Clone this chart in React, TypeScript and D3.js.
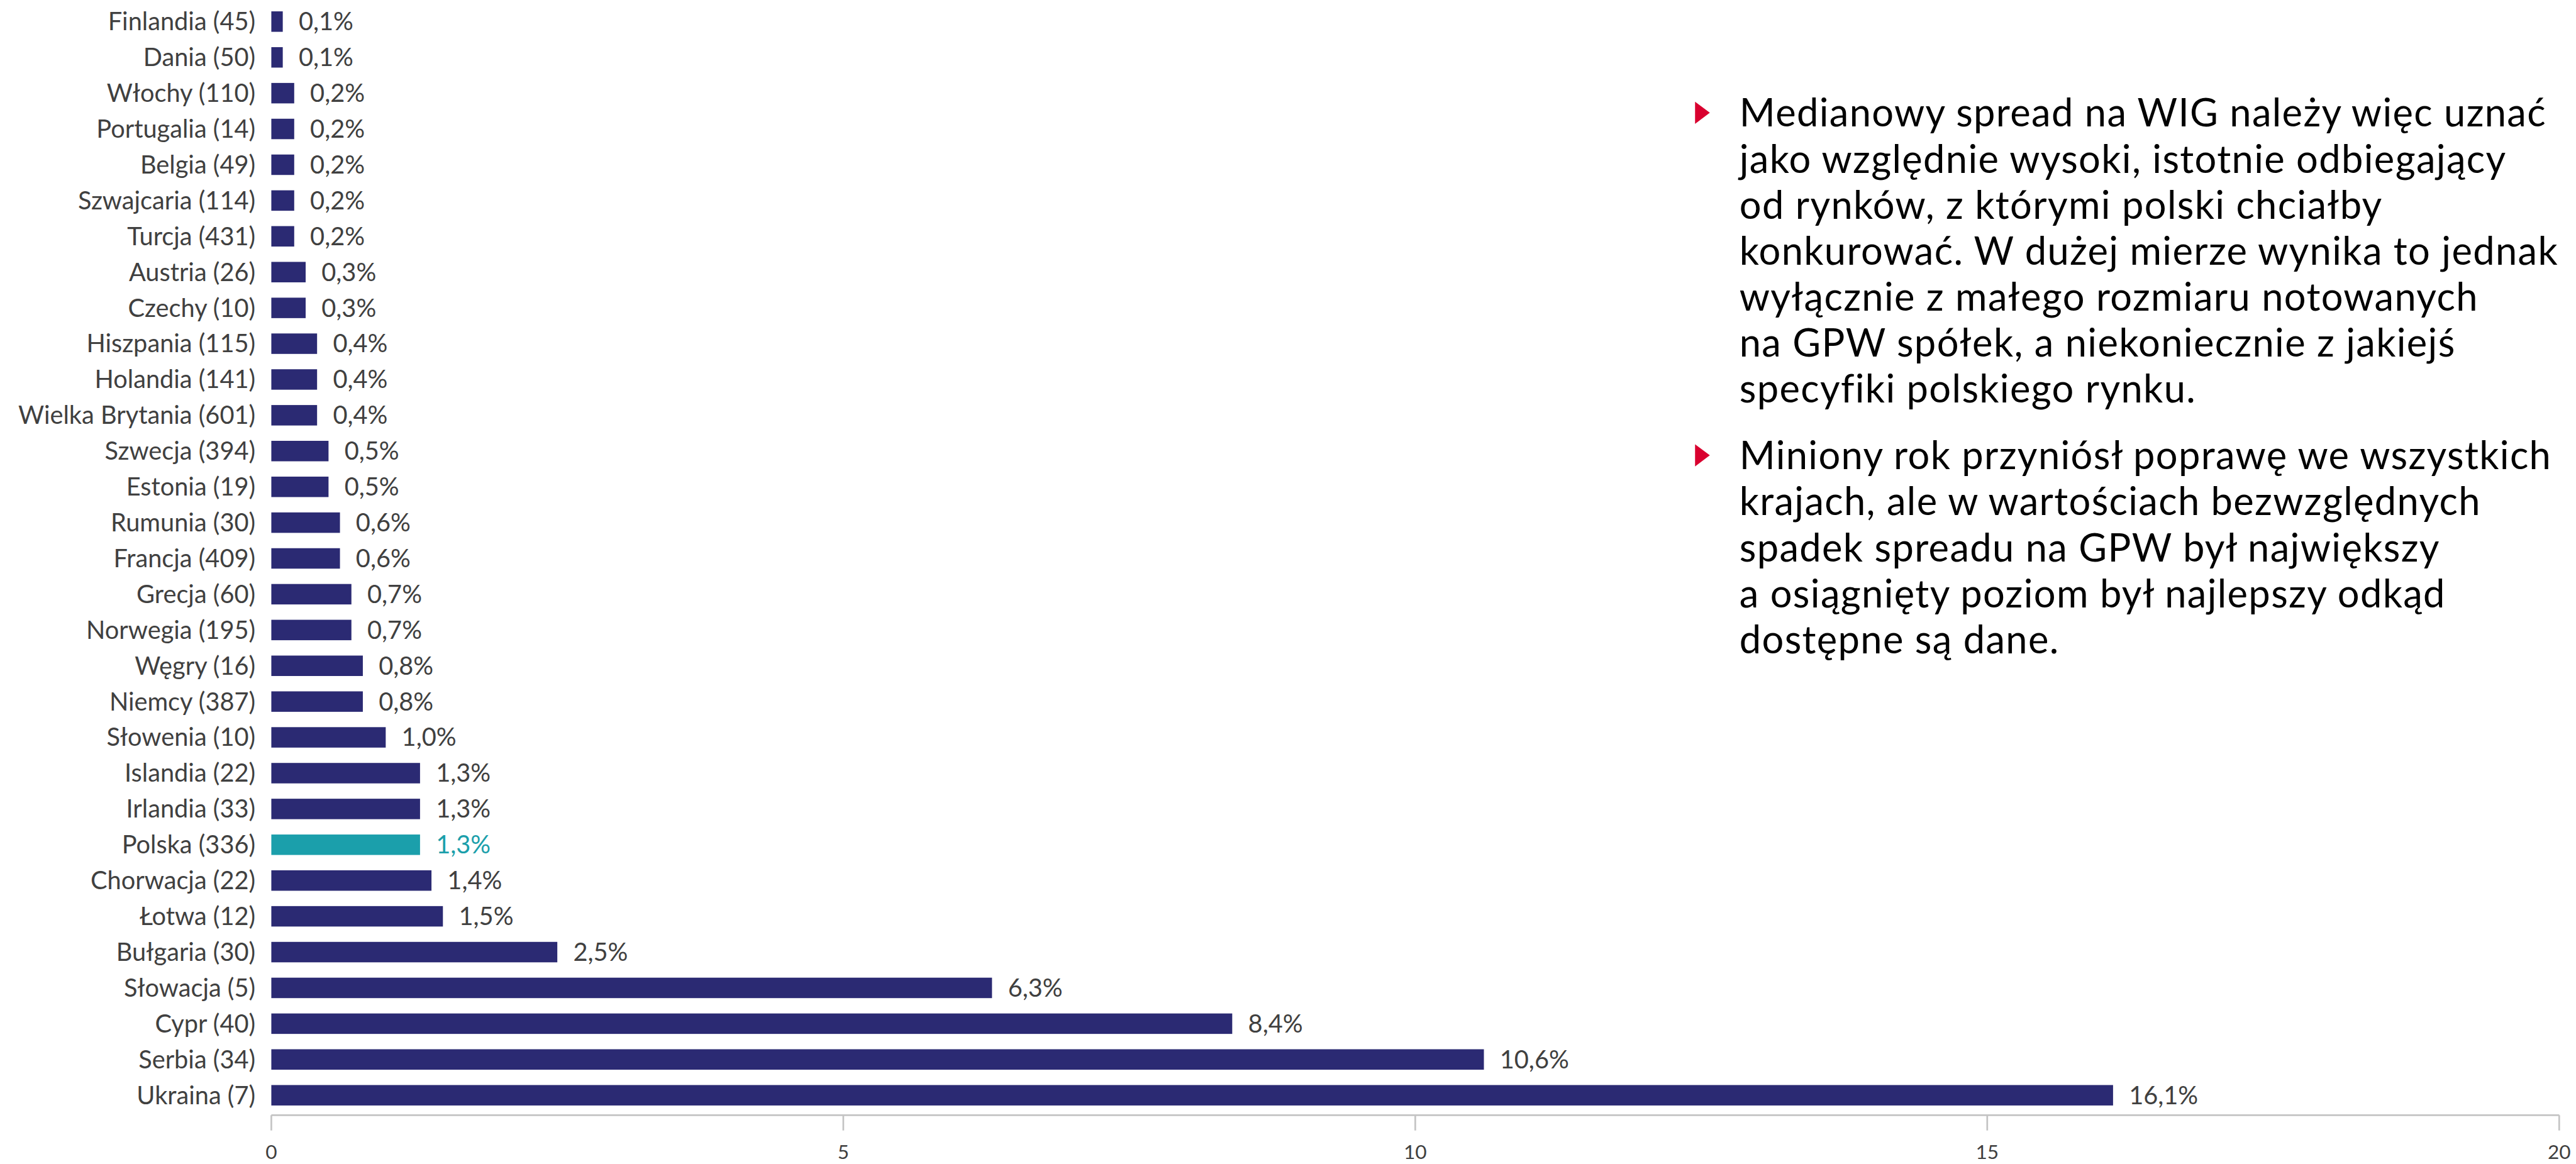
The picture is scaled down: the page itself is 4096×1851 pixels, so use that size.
import React from "react";
import * as d3 from "d3";

const categories = [
  "Finlandia (45)", "Dania (50)", "Włochy (110)", "Portugalia (14)", "Belgia (49)",
  "Szwajcaria (114)", "Turcja (431)", "Austria (26)", "Czechy (10)", "Hiszpania (115)",
  "Holandia (141)", "Wielka Brytania (601)", "Szwecja (394)", "Estonia (19)", "Rumunia (30)",
  "Francja (409)", "Grecja (60)", "Norwegia (195)", "Węgry (16)", "Niemcy (387)",
  "Słowenia (10)", "Islandia (22)", "Irlandia (33)", "Polska (336)", "Chorwacja (22)",
  "Łotwa (12)", "Bułgaria (30)", "Słowacja (5)", "Cypr (40)", "Serbia (34)", "Ukraina (7)",
];
const values = [
  0.1, 0.1, 0.2, 0.2, 0.2, 0.2, 0.2, 0.3, 0.3, 0.4,
  0.4, 0.4, 0.5, 0.5, 0.6, 0.6, 0.7, 0.7, 0.8, 0.8,
  1.0, 1.3, 1.3, 1.3, 1.4, 1.5, 2.5, 6.3, 8.4, 10.6, 16.1,
];
const highlight = "Polska (336)";
const xTicks = [0, 5, 10, 15, 20];

const paragraphs = [
  [
    "Medianowy spread na WIG należy więc uznać",
    "jako względnie wysoki, istotnie odbiegający",
    "od rynków, z którymi polski chciałby",
    "konkurować. W dużej mierze wynika to jednak",
    "wyłącznie z małego rozmiaru notowanych",
    "na GPW spółek, a niekoniecznie z jakiejś",
    "specyfiki polskiego rynku.",
  ],
  [
    "Miniony rok przyniósł poprawę we wszystkich",
    "krajach, ale w wartościach bezwzględnych",
    "spadek spreadu na GPW był największy",
    "a osiągnięty poziom był najlepszy odkąd",
    "dostępne są dane.",
  ],
];

const W = 4533;
const H = 2049;
const NAVY = "#2b2a73";
const TEAL = "#1b9fab";
const GREY = "#404040";
const FONT = "Lato, 'Noto Sans', sans-serif";

export default function App() {
  const x = d3.scaleLinear().domain([0, 20]).range([477, 4504]);
  const y = d3.scaleBand<string>().domain(categories).range([20, 1946]).paddingInner(0.4286).paddingOuter(0);
  const axisY = 1963;
  const fmt = (v: number) => v.toFixed(1).replace(".", ",") + "%";

  const textX = 3061;
  const lineH = 81;
  const paraStarts = [223, 826];

  return (
    <svg
      width={4096}
      height={1851}
      viewBox={`0 0 ${W} ${H}`}
      style={{ position: "fixed", left: 0, top: 0, background: "#fff" }}
      fontFamily={FONT}
    >
      <rect x={0} y={0} width={W} height={H} fill="#fff" />
      {categories.map((c, i) => {
        const v = values[i];
        const yy = y(c)!;
        const bh = y.bandwidth();
        const hl = c === highlight;
        return (
          <g key={c}>
            <text x={449} y={yy + bh / 2} dy="0.35em" textAnchor="end" fontSize={44} fill={GREY}>
              {c}
            </text>
            <rect x={x(0)} y={yy} width={x(v) - x(0)} height={bh} fill={hl ? TEAL : NAVY} />
            <text x={x(v) + 28} y={yy + bh / 2} dy="0.35em" fontSize={44} fill={hl ? TEAL : GREY}>
              {fmt(v)}
            </text>
          </g>
        );
      })}
      <line x1={x(0)} x2={x(20)} y1={axisY} y2={axisY} stroke="#c4c4c4" strokeWidth={3} />
      {xTicks.map((t) => (
        <g key={t}>
          <line x1={x(t)} x2={x(t)} y1={axisY} y2={axisY + 27} stroke="#c4c4c4" strokeWidth={3} />
          <text x={x(t)} y={2040} textAnchor="middle" fontSize={35} fill={GREY}>
            {t}
          </text>
        </g>
      ))}
      {paragraphs.map((lines, pi) => (
        <g key={pi}>
          <path
            d={`M2983,${paraStarts[pi] - 44} L3009,${paraStarts[pi] - 24.5} L2983,${paraStarts[pi] - 5} Z`}
            fill="#d9002f"
          />
          {lines.map((l, li) => (
            <text
              key={li}
              x={textX}
              y={paraStarts[pi] + li * lineH}
              fontSize={68}
              letterSpacing={1.5}
              fill="#000"
            >
              {l}
            </text>
          ))}
        </g>
      ))}
    </svg>
  );
}
